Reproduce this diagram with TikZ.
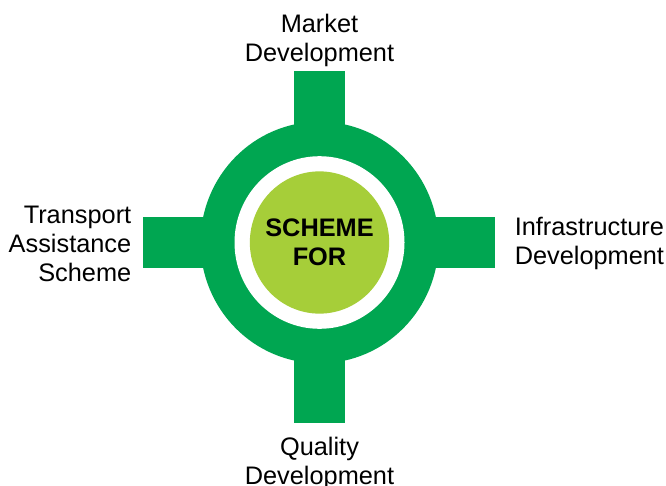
\documentclass[tikz,border=0pt]{standalone}
\usetikzlibrary{shapes.geometric}
\usepackage{fontspec}
\setmainfont{Liberation Sans}
\definecolor{ringgreen}{HTML}{00A651}
\definecolor{hubgreen}{HTML}{A6CE39}
\tikzset{
  px/.style={x=0.75pt,y=-0.75pt},
  bar/.style={fill=ringgreen,draw=none},
  lbl/.style={font=\fontsize{19}{21.75}\selectfont,inner sep=0pt,text=black,align=center},
}
\begin{document}
\begin{tikzpicture}[px]
\useasboundingbox (0,0) rectangle (666,485);
\fill[white] (0,0) rectangle (666,485);
\fill[bar] (294,71) rectangle (345,422.7);
\fill[bar] (143,217) rectangle (495,267.8);
\fill[ringgreen] (319.5,242.5) ellipse [x radius=119,y radius=120.8];
\fill[white] (319.5,242.5) ellipse [x radius=85,y radius=86.3];
\node[ellipse,fill=hubgreen,minimum width=104.5pt,minimum height=106.7pt,inner sep=0pt] (hub) at (319.5,242.5) {};
\node[lbl,font=\fontsize{19}{21.75}\selectfont\bfseries] (hubtext) at (319.5,242.5) {SCHEME\\FOR};
\node[lbl] (top) at (319.5,40) {Market\\Development};
\node[lbl] (bottom) at (319.5,463) {Quality\\Development};
\node[lbl,align=right,anchor=east] (left) at (131.5,243.5) {Transport\\Assistance\\Scheme};
\node[lbl,align=left,anchor=west] (right) at (514.5,243.5) {Infrastructure\\Development};
\end{tikzpicture}
\end{document}
